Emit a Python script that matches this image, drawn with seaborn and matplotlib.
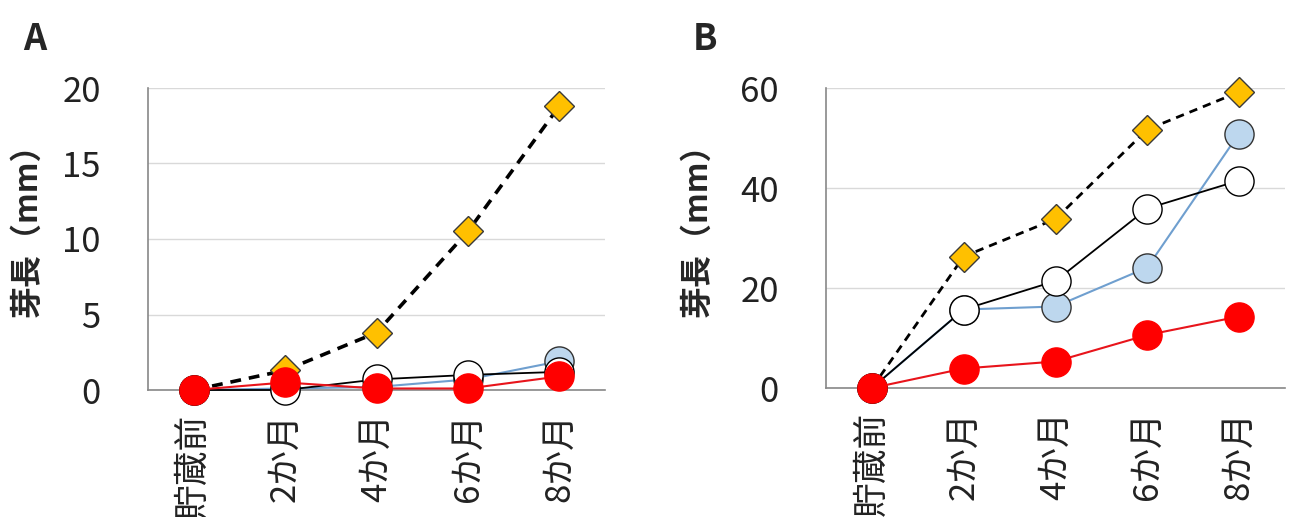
import numpy as np
import pandas as pd
import matplotlib
matplotlib.use("Agg")
import matplotlib.pyplot as plt
import seaborn as sns

# Datos
categorias = ['貯蔵前', '2か月', '4か月', '6か月', '8か月']

a_rombo = [0, 1.3, 3.8, 10.5, 18.8]
a_blanco = [0, 0.0, 0.7, 1.0, 1.2]
a_azul = [0, 0.1, 0.2, 0.7, 1.9]
a_rojo = [0, 0.5, 0.1, 0.1, 0.9]

b_rombo = [0, 26.3, 33.8, 51.7, 59.2]
b_blanco = [0, 15.7, 21.4, 35.9, 41.5]
b_azul = [0, 15.7, 16.3, 24.1, 50.9]
b_rojo = [0, 3.9, 5.3, 10.6, 14.3]

sns.set_style('white')
plt.rcParams['font.family'] = ['Noto Sans CJK JP', 'DejaVu Sans']

fig = plt.figure(figsize=(12.89, 5.17), dpi=100)
ax_a = fig.add_axes([148/1289, 1-390/517, (605-148)/1289, (390-88)/517])
ax_b = fig.add_axes([826/1289, 1-388/517, (1285-826)/1289, (388-88)/517])


def dibujar(ax, rombo, blanco, azul, rojo, ymax, paso, lw_dash):
    x = np.arange(len(categorias))
    sns.lineplot(x=x, y=rombo, ax=ax, color='black', linestyle=(0, (3, 2.2)), lw=lw_dash,
                 marker='D', markersize=15, markerfacecolor='#FFC000',
                 markeredgecolor='#3a3a3a', markeredgewidth=1.0, zorder=2)
    sns.lineplot(x=x, y=azul, ax=ax, color='#6F9FCF', lw=1.5,
                 marker='o', markersize=21, markerfacecolor='#BDD7EE',
                 markeredgecolor='#333333', markeredgewidth=1.0, zorder=3)
    sns.lineplot(x=x, y=blanco, ax=ax, color='black', lw=1.3,
                 marker='o', markersize=21, markerfacecolor='white',
                 markeredgecolor='black', markeredgewidth=1.0, zorder=4)
    sns.lineplot(x=x, y=rojo, ax=ax, color='#E8141B', lw=1.5,
                 marker='o', markersize=21, markerfacecolor='#FF0000',
                 markeredgecolor='#FF0000', markeredgewidth=1.0, zorder=5)

    ax.set_xlim(-0.5, len(categorias) - 0.5)
    ax.set_ylim(0, ymax)
    ax.set_yticks(np.arange(0, ymax + paso, paso))
    ax.set_xticks(x)
    ax.set_xticklabels(categorias, rotation=90, fontsize=25, color='#222222')
    ax.set_xticks(np.arange(-0.5, len(categorias), 1), minor=True)
    ax.tick_params(axis='x', which='major', length=0, pad=17)
    ax.tick_params(axis='x', which='minor', direction='in', length=9,
                   color='#888888', width=1.2)
    ax.tick_params(axis='y', direction='in', length=8, color='#888888',
                   labelsize=25, pad=34, labelcolor='#222222')
    ax.grid(axis='y', color='#D9D9D9', lw=1.0)
    ax.set_axisbelow(True)
    for lado in ['top', 'right']:
        ax.spines[lado].set_visible(False)
    for lado in ['left', 'bottom']:
        ax.spines[lado].set_color('#888888')
        ax.spines[lado].set_linewidth(1.2)
    ax.set_xlabel('')
    ax.set_ylabel('')
    for t in ax.get_lines():
        t.set_clip_on(False)


dibujar(ax_a, a_rombo, a_blanco, a_azul, a_rojo, 20, 5, 2.6)
dibujar(ax_b, b_rombo, b_blanco, b_azul, b_rojo, 60, 20, 2.0)

# Etiquetas de panel y eje
fig.text(35/1289, 1-40/517, 'A', fontsize=26, fontweight='bold', ha='center', va='center')
fig.text(705/1289, 1-40/517, 'B', fontsize=26, fontweight='bold', ha='center', va='center')
fig.text(28/1289, 1-222/517, '芽長（mm）', fontsize=23, fontweight='bold',
         rotation=90, ha='center', va='center')
fig.text(698/1289, 1-222/517, '芽長（mm）', fontsize=23, fontweight='bold',
         rotation=90, ha='center', va='center')

fig.savefig('out.png', dpi=100)
